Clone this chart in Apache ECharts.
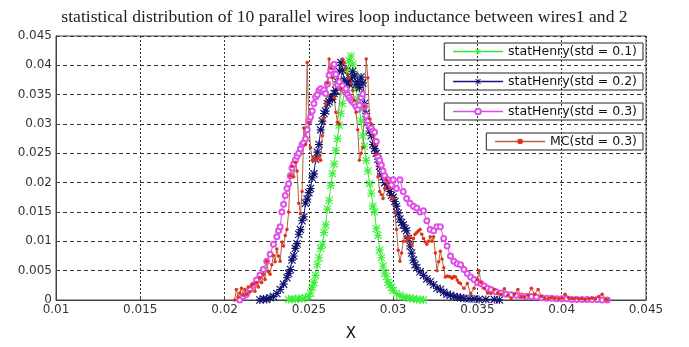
<!DOCTYPE html>
<html>
<head>
<meta charset="utf-8">
<script src="https://cdn.jsdelivr.net/npm/echarts@6/dist/echarts.min.js"></script>
<style>html,body{margin:0;padding:0;background:#fff}#c{width:689px;height:347px}</style>
</head>
<body>
<div id="c"></div>
<script>
const titleText = 'statistical distribution of 10 parallel wires loop inductance between wires1 and 2';
const seriesNames = ['statHenry(std = 0.1)', 'statHenry(std = 0.2)', 'statHenry(std = 0.3)', 'MC(std = 0.3)'];
const xTicks = [0.01, 0.015, 0.02, 0.025, 0.03, 0.035, 0.04, 0.045];
const yTicks = [0, 0.005, 0.01, 0.015, 0.02, 0.025, 0.03, 0.035, 0.04, 0.045];

const greenX = [0.0238,0.0240,0.0242,0.0244,0.0246,0.0248,0.0250,0.0251,0.0252,0.0253,0.0254,0.0255,0.0256,0.0257,0.0258,0.0259,0.0260,0.0261,0.0262,0.0263,0.0264,0.0265,0.0266,0.0267,0.0268,0.0269,0.0270,0.0271,0.0272,0.0273,0.0274,0.0275,0.0276,0.0277,0.0278,0.0279,0.0280,0.0281,0.0282,0.0283,0.0284,0.0285,0.0286,0.0287,0.0288,0.0289,0.0290,0.0291,0.0292,0.0293,0.0294,0.0295,0.0296,0.0297,0.0298,0.0299,0.0300,0.0302,0.0304,0.0306,0.0308,0.0310,0.0312,0.0314,0.0316,0.0318];
const greenY = [0.0001,0.0002,0.0001,0.0003,0.0002,0.0004,0.0006,0.0012,0.0022,0.0030,0.0042,0.0060,0.0072,0.0088,0.0095,0.0115,0.0128,0.0155,0.0170,0.0195,0.0215,0.0232,0.0255,0.0275,0.0298,0.0318,0.0335,0.0355,0.0372,0.0392,0.0408,0.0416,0.0402,0.0385,0.0360,0.0342,0.0325,0.0305,0.0280,0.0262,0.0238,0.0220,0.0198,0.0182,0.0160,0.0150,0.0122,0.0110,0.0085,0.0072,0.0058,0.0046,0.0040,0.0030,0.0026,0.0022,0.0016,0.0011,0.0008,0.0005,0.0004,0.0003,0.0002,0.0001,0.0001,0.0000];

const navyX = [0.0221,0.0223,0.0225,0.0227,0.0229,0.0231,0.0233,0.0235,0.0237,0.0238,0.0239,0.0240,0.0241,0.0242,0.0243,0.0244,0.0245,0.0246,0.0247,0.0248,0.0249,0.0250,0.0251,0.0252,0.0253,0.0254,0.0255,0.0256,0.0257,0.0258,0.0259,0.0260,0.0261,0.0262,0.0263,0.0264,0.0265,0.0266,0.0267,0.0268,0.0269,0.0270,0.0271,0.0272,0.0273,0.0274,0.0275,0.0276,0.0277,0.0278,0.0279,0.0280,0.0281,0.0282,0.0283,0.0284,0.0285,0.0286,0.0287,0.0288,0.0289,0.0290,0.0291,0.0292,0.0293,0.0294,0.0295,0.0296,0.0297,0.0298,0.0299,0.0300,0.0301,0.0302,0.0303,0.0304,0.0305,0.0306,0.0307,0.0308,0.0309,0.0310,0.0311,0.0312,0.0313,0.0314,0.0316,0.0318,0.0320,0.0322,0.0324,0.0326,0.0328,0.0330,0.0332,0.0334,0.0336,0.0338,0.0340,0.0342,0.0345,0.0348,0.0351,0.0355,0.0360,0.0363];
const navyY = [0.0000,0.0002,0.0001,0.0004,0.0006,0.0011,0.0018,0.0027,0.0038,0.0045,0.0052,0.0068,0.0075,0.0088,0.0096,0.0112,0.0120,0.0135,0.0142,0.0165,0.0172,0.0183,0.0190,0.0208,0.0215,0.0240,0.0252,0.0265,0.0290,0.0305,0.0318,0.0322,0.0335,0.0338,0.0346,0.0342,0.0352,0.0357,0.0372,0.0390,0.0405,0.0392,0.0375,0.0362,0.0370,0.0368,0.0378,0.0390,0.0382,0.0367,0.0372,0.0362,0.0380,0.0370,0.0335,0.0318,0.0303,0.0288,0.0280,0.0265,0.0258,0.0250,0.0240,0.0228,0.0215,0.0210,0.0200,0.0202,0.0192,0.0185,0.0178,0.0175,0.0168,0.0160,0.0148,0.0138,0.0132,0.0128,0.0122,0.0118,0.0105,0.0092,0.0080,0.0068,0.0060,0.0055,0.0048,0.0042,0.0036,0.0031,0.0026,0.0020,0.0018,0.0013,0.0010,0.0008,0.0006,0.0005,0.0004,0.0003,0.0002,0.0002,0.0001,0.0001,0.0001,0.0000];

const magX = [0.0209,0.0211,0.0213,0.0215,0.0217,0.0219,0.0221,0.0223,0.0225,0.0227,0.0229,0.0231,0.0232,0.0233,0.0234,0.0235,0.0236,0.0237,0.0238,0.0239,0.0240,0.0241,0.0242,0.0243,0.0244,0.0245,0.0246,0.0247,0.0248,0.0249,0.0250,0.0251,0.0252,0.0253,0.0254,0.0255,0.0256,0.0257,0.0258,0.0259,0.0260,0.0261,0.0262,0.0263,0.0264,0.0265,0.0266,0.0267,0.0268,0.0269,0.0270,0.0271,0.0272,0.0273,0.0274,0.0275,0.0276,0.0277,0.0278,0.0279,0.0280,0.0281,0.0282,0.0283,0.0284,0.0285,0.0286,0.0287,0.0288,0.0289,0.0290,0.0291,0.0292,0.0293,0.0294,0.0295,0.0296,0.0297,0.0298,0.0299,0.0300,0.0302,0.0304,0.0306,0.0308,0.0310,0.0312,0.0314,0.0316,0.0318,0.0320,0.0322,0.0324,0.0326,0.0328,0.0330,0.0332,0.0334,0.0336,0.0338,0.0340,0.0342,0.0344,0.0346,0.0348,0.0350,0.0352,0.0354,0.0356,0.0358,0.0361,0.0364,0.0367,0.0370,0.0373,0.0376,0.0379,0.0382,0.0385,0.0388,0.0391,0.0394,0.0397,0.0400,0.0403,0.0406,0.0409,0.0412,0.0415,0.0418,0.0421,0.0424,0.0427];
const magY = [0.0000,0.0006,0.0010,0.0018,0.0025,0.0034,0.0042,0.0052,0.0066,0.0078,0.0095,0.0108,0.0118,0.0125,0.0150,0.0163,0.0178,0.0190,0.0198,0.0212,0.0225,0.0232,0.0238,0.0245,0.0250,0.0258,0.0265,0.0268,0.0275,0.0290,0.0305,0.0312,0.0322,0.0335,0.0346,0.0350,0.0357,0.0360,0.0355,0.0358,0.0352,0.0368,0.0383,0.0392,0.0398,0.0402,0.0385,0.0367,0.0372,0.0362,0.0365,0.0357,0.0360,0.0350,0.0345,0.0341,0.0338,0.0335,0.0330,0.0325,0.0332,0.0345,0.0351,0.0330,0.0314,0.0305,0.0298,0.0293,0.0288,0.0286,0.0270,0.0244,0.0238,0.0230,0.0220,0.0212,0.0205,0.0205,0.0200,0.0196,0.0205,0.0190,0.0205,0.0185,0.0173,0.0165,0.0160,0.0157,0.0150,0.0152,0.0135,0.0120,0.0118,0.0125,0.0125,0.0105,0.0092,0.0075,0.0066,0.0062,0.0060,0.0052,0.0045,0.0039,0.0035,0.0030,0.0028,0.0024,0.0020,0.0018,0.0014,0.0012,0.0010,0.0009,0.0008,0.0007,0.0006,0.0006,0.0005,0.0004,0.0003,0.0003,0.0002,0.0002,0.0002,0.0001,0.0001,0.0001,0.0001,0.0001,0.0001,0.0000,0.0000];

const mcX = [0.0206,0.0207,0.0208,0.0209,0.0210,0.0211,0.0212,0.0213,0.0214,0.0215,0.0216,0.0217,0.0218,0.0219,0.0220,0.0221,0.0222,0.0223,0.0224,0.0225,0.0226,0.0227,0.0228,0.0229,0.0230,0.0231,0.0232,0.0233,0.0234,0.0235,0.0236,0.0237,0.0238,0.0239,0.0240,0.0241,0.0242,0.0243,0.0244,0.0245,0.0246,0.0247,0.0248,0.0249,0.0250,0.0251,0.0252,0.0253,0.0254,0.0255,0.0256,0.0257,0.0258,0.0259,0.0260,0.0261,0.0262,0.0263,0.0264,0.0265,0.0266,0.0267,0.0268,0.0269,0.0270,0.0271,0.0272,0.0273,0.0274,0.0275,0.0276,0.0277,0.0278,0.0279,0.0280,0.0281,0.0282,0.0283,0.0284,0.0285,0.0286,0.0287,0.0288,0.0289,0.0290,0.0291,0.0292,0.0293,0.0294,0.0295,0.0296,0.0297,0.0298,0.0299,0.0300,0.0301,0.0302,0.0303,0.0304,0.0305,0.0306,0.0307,0.0308,0.0309,0.0310,0.0311,0.0312,0.0313,0.0314,0.0315,0.0316,0.0317,0.0318,0.0319,0.0320,0.0321,0.0322,0.0323,0.0324,0.0325,0.0326,0.0327,0.0328,0.0329,0.0330,0.0331,0.0332,0.0333,0.0334,0.0335,0.0336,0.0337,0.0338,0.0339,0.0340,0.0342,0.0344,0.0346,0.0348,0.0350,0.0351,0.0352,0.0354,0.0356,0.0358,0.0360,0.0362,0.0364,0.0366,0.0368,0.0370,0.0372,0.0374,0.0376,0.0378,0.0380,0.0382,0.0384,0.0386,0.0388,0.0390,0.0392,0.0394,0.0396,0.0398,0.0400,0.0402,0.0404,0.0406,0.0408,0.0410,0.0412,0.0414,0.0416,0.0418,0.0420,0.0422,0.0424,0.0426,0.0427];
const mcY = [0.0000,0.0018,0.0005,0.0012,0.0020,0.0008,0.0018,0.0010,0.0022,0.0014,0.0025,0.0027,0.0015,0.0030,0.0022,0.0038,0.0030,0.0044,0.0035,0.0066,0.0048,0.0044,0.0060,0.0076,0.0065,0.0087,0.0075,0.0066,0.0099,0.0092,0.0110,0.0120,0.0150,0.0212,0.0228,0.0210,0.0235,0.0220,0.0165,0.0147,0.0185,0.0293,0.0265,0.0405,0.0303,0.0260,0.0238,0.0242,0.0238,0.0240,0.0245,0.0238,0.0280,0.0310,0.0335,0.0370,0.0411,0.0395,0.0379,0.0345,0.0320,0.0303,0.0300,0.0360,0.0411,0.0405,0.0395,0.0385,0.0379,0.0370,0.0357,0.0340,0.0320,0.0290,0.0238,0.0250,0.0260,0.0330,0.0411,0.0379,0.0309,0.0300,0.0280,0.0265,0.0249,0.0210,0.0185,0.0180,0.0173,0.0190,0.0205,0.0200,0.0190,0.0175,0.0173,0.0150,0.0120,0.0085,0.0066,0.0080,0.0100,0.0108,0.0100,0.0105,0.0108,0.0095,0.0105,0.0112,0.0115,0.0118,0.0120,0.0112,0.0105,0.0099,0.0095,0.0100,0.0108,0.0100,0.0108,0.0080,0.0050,0.0065,0.0083,0.0070,0.0055,0.0039,0.0041,0.0040,0.0039,0.0037,0.0040,0.0039,0.0034,0.0030,0.0028,0.0020,0.0028,0.0011,0.0020,0.0035,0.0050,0.0030,0.0020,0.0012,0.0011,0.0018,0.0012,0.0010,0.0019,0.0008,0.0002,0.0010,0.0018,0.0006,0.0005,0.0008,0.0020,0.0010,0.0018,0.0006,0.0003,0.0002,0.0004,0.0003,0.0002,0.0003,0.0010,0.0004,0.0002,0.0003,0.0002,0.0002,0.0001,0.0002,0.0003,0.0002,0.0006,0.0010,0.0001,0.0000];

const pair = (xs, ys) => xs.map((x, i) => [x, ys[i]]);
const asterisk = 'path://M4.3,0L5.7,0L5.7,10L4.3,10Z M0,4.3L10,4.3L10,5.7L0,5.7Z M1,0L10,9L9,10L0,1Z M9,0L10,1L1,10L0,9Z';
const fmt = v => String(+v.toFixed(3));
const FONT = '"DejaVu Sans", "Liberation Sans", Arial, sans-serif';
const lineColors = ['#33e833', '#14147a', '#d050e0', '#b5603c'];

const chart = echarts.init(document.getElementById('c'), null, {renderer: 'canvas'});
const legendTops = [43, 73, 103, 133];
const legends = seriesNames.map((n, i) => ({
  data: [n], right: 46, top: legendTops[i], orient: 'horizontal',
  padding: [2, 6, 2, 8], itemWidth: 50, itemHeight: 7, itemGap: 4,
  borderColor: '#222', borderWidth: 1, backgroundColor: 'transparent',
  selectedMode: false,
  lineStyle: {width: 1.6, color: lineColors[i], opacity: 1},
  textStyle: {fontFamily: FONT, fontSize: 12.5, color: '#111'}
}));

chart.setOption({
  animation: false,
  backgroundColor: '#fff',
  title: {
    text: titleText, left: 'center', top: 3,
    textStyle: {fontFamily: '"Liberation Serif", "Times New Roman", serif', fontSize: 17.6, fontWeight: 'normal', color: '#222'}
  },
  legend: legends,
  grid: {left: 56, right: 43, top: 36, bottom: 33, show: true, borderColor: '#444', borderWidth: 1, backgroundColor: 'transparent'},
  xAxis: {
    type: 'value', min: xTicks[0], max: xTicks[xTicks.length - 1], interval: 0.005,
    name: 'X', nameLocation: 'middle', nameGap: 27,
    nameTextStyle: {fontFamily: FONT, fontSize: 15, color: '#111'},
    axisLine: {lineStyle: {color: '#444'}},
    axisTick: {show: true, inside: true, length: 4, lineStyle: {color: '#444'}},
    axisLabel: {formatter: fmt, margin: 4, fontFamily: FONT, fontSize: 12, color: '#333'},
    splitLine: {show: true, lineStyle: {color: '#333', type: [2, 2], width: 1}}
  },
  yAxis: {
    type: 'value', min: yTicks[0], max: yTicks[yTicks.length - 1], interval: 0.005,
    axisLine: {show: true, lineStyle: {color: '#444'}},
    axisTick: {show: true, inside: true, length: 4, lineStyle: {color: '#444'}},
    axisLabel: {formatter: fmt, margin: 4, fontFamily: FONT, fontSize: 12, color: '#333'},
    splitLine: {show: true, lineStyle: {color: '#333', type: [4, 3], width: 1}}
  },
  series: [
    {name: seriesNames[0], type: 'line', data: pair(greenX, greenY), symbol: asterisk, symbolSize: 8, showAllSymbol: true,
     lineStyle: {color: lineColors[0], width: 1}, itemStyle: {color: '#3cf03c'}},
    {name: seriesNames[1], type: 'line', data: pair(navyX, navyY), symbol: asterisk, symbolSize: 8, showAllSymbol: true,
     lineStyle: {color: lineColors[1], width: 1}, itemStyle: {color: '#10106e'}},
    {name: seriesNames[2], type: 'line', data: pair(magX, magY), symbol: 'emptyCircle', symbolSize: 5, showAllSymbol: true,
     lineStyle: {color: lineColors[2], width: 1}, itemStyle: {color: '#e050e8', borderWidth: 0.8}},
    {name: seriesNames[3], type: 'line', data: pair(mcX, mcY), symbol: 'circle', symbolSize: 3.5, showAllSymbol: true,
     lineStyle: {color: lineColors[3], width: 1}, itemStyle: {color: '#e0301a'}}
  ]
});
</script>
</body>
</html>
